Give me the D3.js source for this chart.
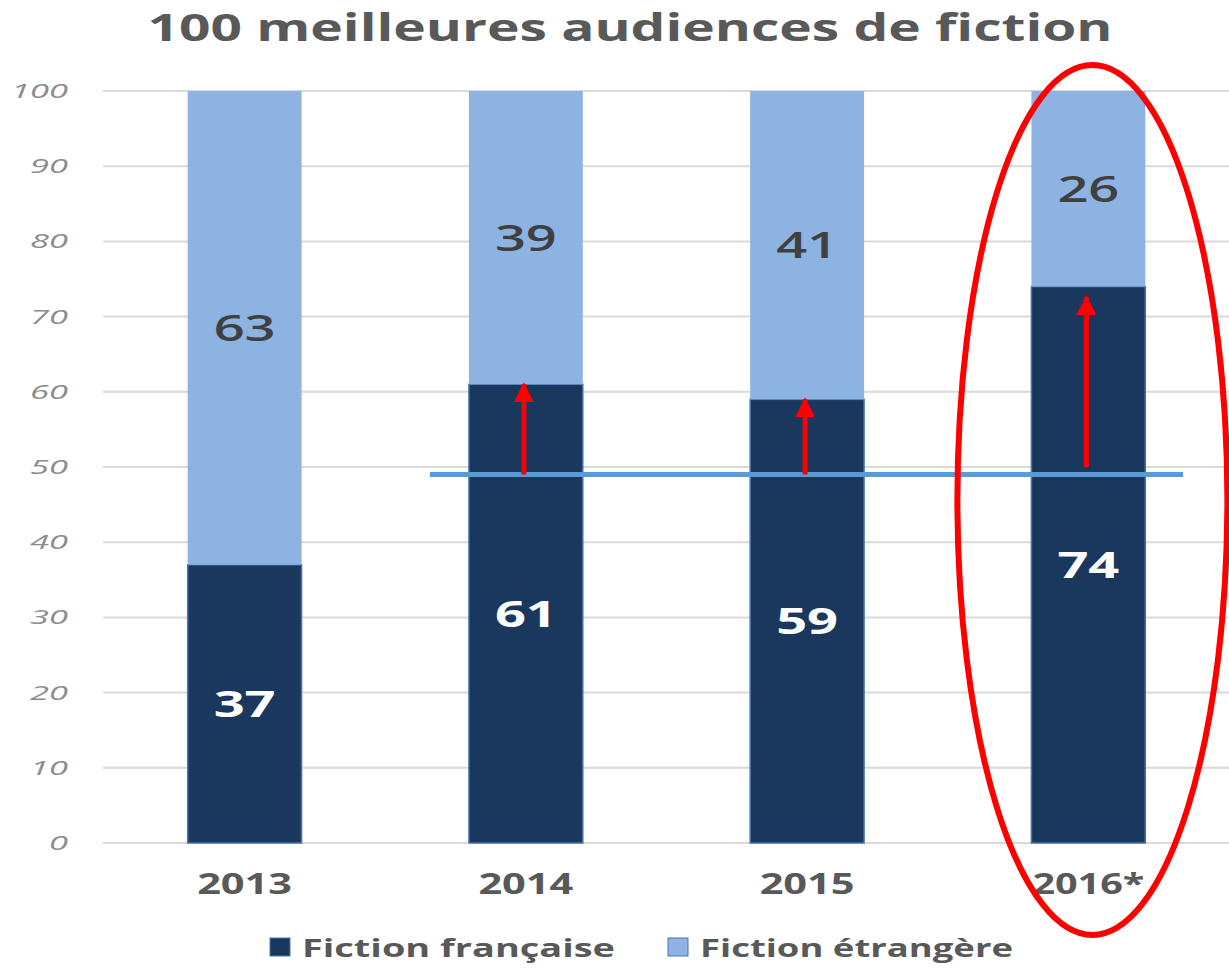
<!DOCTYPE html>
<html>
<head>
<meta charset="utf-8">
<script src="https://cdn.jsdelivr.net/npm/d3@7"></script>
<style>
  body { margin: 0; background: #fff; }
  svg { display: block; }
</style>
</head>
<body>
<div id="chart"></div>
<script>
var years = ["2013", "2014", "2015", "2016*"];
var francaise = [37, 61, 59, 74];
var etrangere = [63, 39, 41, 26];
var yTicks = [0, 10, 20, 30, 40, 50, 60, 70, 80, 90, 100];
var refValue = 49;
var arrowYears = ["2014", "2015", "2016*"];
var arrowFrom = [49, 49, 50];
var arrowTo = [61, 59, 72.6];

var width = 1229, height = 972;

var svg = d3.select("#chart")
    .append("svg")
    .attr("width", width)
    .attr("height", height);

var x = d3.scaleBand()
    .domain(years)
    .range([104, 1229])
    .paddingInner(0.595)
    .paddingOuter(0.2975);

var y = d3.scaleLinear()
    .domain([0, 100])
    .range([843, 91]);

// title
svg.append("text")
    .attr("x", 630)
    .attr("y", 41)
    .attr("text-anchor", "middle")
    .attr("font-family", "Open Sans, sans-serif")
    .attr("font-weight", "bold")
    .attr("font-size", 37)
    .attr("textLength", 965)
    .attr("lengthAdjust", "spacingAndGlyphs")
    .attr("fill", "#595959")
    .text("100 meilleures audiences de fiction");

// gridlines
svg.append("g")
    .selectAll("line")
    .data(yTicks)
    .enter().append("line")
    .attr("x1", 103)
    .attr("x2", 1229)
    .attr("y1", function(d) { return y(d); })
    .attr("y2", function(d) { return y(d); })
    .attr("stroke", "#d9d9d9")
    .attr("stroke-width", 2);

// y labels (stretched like the source image)
svg.append("g")
    .selectAll("text")
    .data(yTicks)
    .enter().append("text")
    .attr("x", 68)
    .attr("y", function(d) { return y(d) + 7; })
    .attr("text-anchor", "end")
    .attr("font-family", "Open Sans, sans-serif")
    .attr("font-style", "italic")
    .attr("font-size", 20)
    .attr("textLength", function(d) { return String(d).length * 19; })
    .attr("lengthAdjust", "spacingAndGlyphs")
    .attr("fill", "#8c8c8c")
    .text(function(d) { return d; });

var rows = years.map(function(yr, i) {
    return { year: yr, fr: francaise[i], et: etrangere[i] };
});

// bars
var bars = svg.append("g");
bars.selectAll(".fr")
    .data(rows)
    .enter().append("rect")
    .attr("class", "fr")
    .attr("x", function(d) { return x(d.year); })
    .attr("y", function(d) { return y(d.fr); })
    .attr("width", x.bandwidth())
    .attr("height", function(d) { return y(0) - y(d.fr); })
    .attr("fill", "#1a375e")
    .attr("stroke", "#4a76ad")
    .attr("stroke-width", 1.5);

bars.selectAll(".et")
    .data(rows)
    .enter().append("rect")
    .attr("class", "et")
    .attr("x", function(d) { return x(d.year); })
    .attr("y", function(d) { return y(d.fr + d.et); })
    .attr("width", x.bandwidth())
    .attr("height", function(d) { return y(d.fr) - y(d.fr + d.et); })
    .attr("fill", "#8db3e2");

// value labels
svg.append("g")
    .selectAll("text")
    .data(rows)
    .enter().append("text")
    .attr("x", function(d) { return x(d.year) + x.bandwidth() / 2; })
    .attr("y", function(d) { return y(d.fr / 2) + 13; })
    .attr("text-anchor", "middle")
    .attr("font-family", "Open Sans, sans-serif")
    .attr("font-weight", "bold")
    .attr("font-size", 36)
    .attr("textLength", 62)
    .attr("lengthAdjust", "spacingAndGlyphs")
    .attr("fill", "#ffffff")
    .text(function(d) { return d.fr; });

svg.append("g")
    .selectAll("text")
    .data(rows)
    .enter().append("text")
    .attr("x", function(d) { return x(d.year) + x.bandwidth() / 2; })
    .attr("y", function(d) { return y(d.fr + d.et / 2) + 13; })
    .attr("text-anchor", "middle")
    .attr("font-family", "Open Sans, sans-serif")
    .attr("font-weight", 600)
    .attr("font-size", 36)
    .attr("textLength", 62)
    .attr("lengthAdjust", "spacingAndGlyphs")
    .attr("fill", "#404040")
    .text(function(d) { return d.et; });

// x labels
svg.append("g")
    .selectAll("text")
    .data(years)
    .enter().append("text")
    .attr("x", function(d) { return x(d) + x.bandwidth() / 2; })
    .attr("y", 894)
    .attr("text-anchor", "middle")
    .attr("font-family", "Open Sans, sans-serif")
    .attr("font-weight", "bold")
    .attr("font-size", 28)
    .attr("textLength", function(d) { return d.length === 4 ? 95 : 112; })
    .attr("lengthAdjust", "spacingAndGlyphs")
    .attr("fill", "#595959")
    .text(function(d) { return d; });

// reference line
svg.append("line")
    .attr("x1", 430)
    .attr("x2", 1183)
    .attr("y1", y(refValue))
    .attr("y2", y(refValue))
    .attr("stroke", "#5b9bd5")
    .attr("stroke-width", 5);

// arrows
svg.append("defs").append("marker")
    .attr("id", "head")
    .attr("viewBox", "0 0 10 10")
    .attr("refX", 9)
    .attr("refY", 5)
    .attr("markerWidth", 4)
    .attr("markerHeight", 4)
    .attr("markerUnits", "strokeWidth")
    .attr("orient", "auto")
    .append("path")
    .attr("d", "M0,0L10,5L0,10Z")
    .attr("fill", "#ff0000");

svg.append("g")
    .selectAll("line")
    .data(arrowYears)
    .enter().append("line")
    .attr("x1", function(d) { return x(d) + x.bandwidth() / 2 - 2; })
    .attr("x2", function(d) { return x(d) + x.bandwidth() / 2 - 2; })
    .attr("y1", function(d, i) { return y(arrowFrom[i]); })
    .attr("y2", function(d, i) { return y(arrowTo[i]); })
    .attr("stroke", "#ff0000")
    .attr("stroke-width", 5)
    .attr("marker-end", "url(#head)");

// ellipse around 2016
svg.append("ellipse")
    .attr("cx", x("2016*") + x.bandwidth() / 2 + 4)
    .attr("cy", 500)
    .attr("rx", 135)
    .attr("ry", 435)
    .attr("fill", "none")
    .attr("stroke", "#ff0000")
    .attr("stroke-width", 6);

// legend
var legendItems = [
    { label: "Fiction française", color: "#1a375e", x: 270 },
    { label: "Fiction étrangère", color: "#8db3e2", x: 668 }
];
var lg = svg.append("g")
    .selectAll("g")
    .data(legendItems)
    .enter().append("g")
    .attr("transform", function(d) { return "translate(" + d.x + ",0)"; });

lg.append("rect")
    .attr("x", 0)
    .attr("y", 938)
    .attr("width", 20)
    .attr("height", 18)
    .attr("fill", function(d) { return d.color; })
    .attr("stroke", "#4a76ad")
    .attr("stroke-width", 1);

lg.append("text")
    .attr("x", 32)
    .attr("y", 957)
    .attr("font-family", "Open Sans, sans-serif")
    .attr("font-weight", "bold")
    .attr("font-size", 25)
    .attr("textLength", 313)
    .attr("lengthAdjust", "spacingAndGlyphs")
    .attr("fill", "#595959")
    .text(function(d) { return d.label; });
</script>
</body>
</html>
